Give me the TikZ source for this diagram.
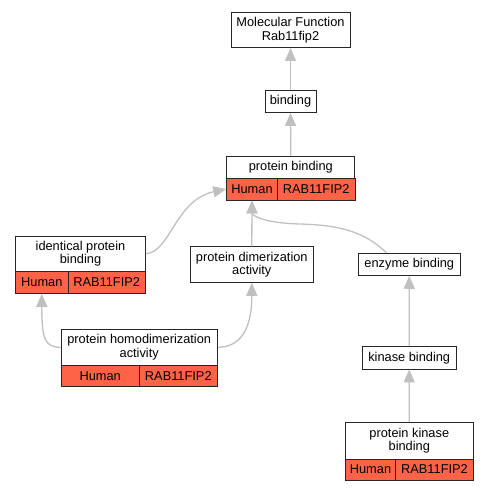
\documentclass[tikz,border=0pt]{standalone}
\usepackage{fontspec}
\setmainfont{Liberation Sans}
\usetikzlibrary{arrows.meta,calc}
\definecolor{cellred}{HTML}{FF6347}
\definecolor{edgegray}{HTML}{C0C0C0}
\begin{document}
\begin{tikzpicture}[x=1pt,y=-1pt,
  box/.style={draw=black!85, line width=0.9pt, fill=white, inner sep=0pt, align=center, font=\fontsize{12.8}{13.5}\selectfont},
  cell/.style={box, fill=cellred},
  edge/.style={draw=edgegray, line width=1.3pt, -{Triangle[length=13pt,width=11pt]}}]
\useasboundingbox (0,0) rectangle (489,491);
% nodes
\node[box, minimum width=119pt, minimum height=35pt] (mf) at (290.5,30) {Molecular Function\\Rab11fip2};
\node[box, minimum width=51pt, minimum height=22pt] (bind) at (290.5,101.5) {binding};
\node[box, minimum width=128pt, minimum height=22pt] (pb) at (290.8,167) {protein binding};
\node[cell, minimum width=50.6pt, minimum height=22pt] (pbH) at (252,189) {Human};
\node[cell, minimum width=77.7pt, minimum height=22pt] (pbR) at (316.2,189) {RAB11FIP2};
\node[box, minimum width=129.6pt, minimum height=35.3pt] (idb) at (80.5,253.6) {identical protein\\binding};
\node[cell, minimum width=52.3pt, minimum height=22pt] (idbH) at (41.8,282.3) {Human};
\node[cell, minimum width=77.3pt, minimum height=22pt] (idbR) at (106.7,282.3) {RAB11FIP2};
\node[box, minimum width=123pt, minimum height=35.6pt] (dim) at (251.8,264.5) {protein dimerization\\activity};
\node[box, minimum width=156.3pt, minimum height=36pt] (hd) at (139.2,347.3) {protein homodimerization\\activity};
\node[cell, minimum width=78.3pt, minimum height=21.4pt] (hdH) at (100.2,376) {Human};
\node[cell, minimum width=78pt, minimum height=21.4pt] (hdR) at (178.3,376) {RAB11FIP2};
\node[box, minimum width=101.3pt, minimum height=22pt] (enz) at (409.3,264.3) {enzyme binding};
\node[box, minimum width=93.7pt, minimum height=22.3pt] (kin) at (409.2,357.8) {kinase binding};
\node[box, minimum width=128pt, minimum height=36.3pt] (pkb) at (409.3,440.8) {protein kinase\\binding};
\node[cell, minimum width=50.4pt, minimum height=21pt] (pkbH) at (370.5,469.5) {Human};
\node[cell, minimum width=77.6pt, minimum height=21pt] (pkbR) at (434.5,469.5) {RAB11FIP2};
\coordinate (enzs) at ($(enz.north west)+(28.3,0)$);
% edges
\draw[edge] (bind.north) -- (mf.south);
\draw[edge] (pb.north) -- (bind.south);
\draw[edge] (dim.north) -- (pbH.south);
\draw[edge] (idb.east) .. controls (170,253) and (175,200) .. (pbH.west);
\draw[edge] (enzs) .. controls (365,232) and (340,225) .. (300,224) .. controls (262,223) and (252,215) .. (pbH.south);
\draw[edge] (hd.west) .. controls (45,347) and (41.8,340) .. (idbH.south);
\draw[edge] (hd.east) .. controls (240,347) and (251.8,330) .. (dim.south);
\draw[edge] (kin.north) -- (enz.south);
\draw[edge] (pkb.north) -- (kin.south);
\end{tikzpicture}
\end{document}
